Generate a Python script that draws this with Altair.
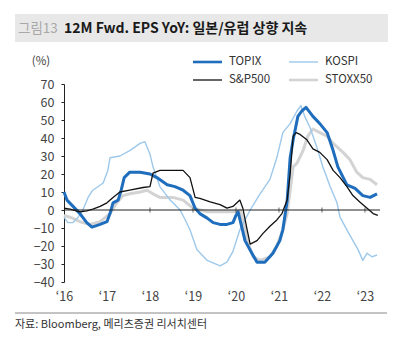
import altair as alt
import pandas as pd

FONT = "Noto Sans CJK KR"

# ---- data (decimal year, % YoY) ----
topix_t = [2016.00, 2016.07, 2016.21, 2016.37, 2016.53, 2016.65, 2016.84, 2017.00, 2017.07, 2017.14,
           2017.26, 2017.33, 2017.40, 2017.53, 2017.77, 2018.00, 2018.16, 2018.40, 2018.58, 2018.77,
           2018.93, 2019.05, 2019.16, 2019.33, 2019.47, 2019.63, 2019.79, 2019.93, 2020.00, 2020.05,
           2020.12, 2020.21, 2020.37, 2020.49, 2020.67, 2020.86, 2021.02, 2021.09, 2021.19, 2021.26,
           2021.33, 2021.44, 2021.53, 2021.63, 2021.79, 2021.95, 2022.12, 2022.26, 2022.37, 2022.58,
           2022.77, 2022.95, 2023.12, 2023.28]
topix_v = [10, 5.5, 2, -2, -7, -9.5, -8, -6.5, -2, 4,
           5.5, 11, 18, 21, 21, 20, 18, 14, 13, 11,
           8, 1, -2, -4.5, -7, -8, -8, -7, -3, -1,
           -8, -17, -24, -29, -29, -24, -17, -11, 5, 29,
           39, 52, 55, 57, 52, 48, 43, 33, 24, 14,
           12, 8, 7, 9]

kospi_t = [2016.00, 2016.09, 2016.21, 2016.33, 2016.44, 2016.56, 2016.67, 2016.91, 2017.02, 2017.07,
           2017.30, 2017.53, 2017.77, 2017.88, 2018.00, 2018.07, 2018.23, 2018.47, 2018.70, 2018.81,
           2018.93, 2019.09, 2019.33, 2019.63, 2019.79, 2019.93, 2020.09, 2020.33, 2020.56, 2020.79,
           2020.95, 2021.09, 2021.26, 2021.42, 2021.51, 2021.60, 2021.72, 2021.88, 2022.02, 2022.19,
           2022.35, 2022.42, 2022.58, 2022.72, 2022.84, 2022.95, 2023.05, 2023.16, 2023.28]
kospi_v = [-4, -7, -7, -4, 0, 7, 11, 15, 22, 29,
           30, 33, 37, 38, 31, 24, 13, 5.5, 0, -5,
           -11, -22, -28, -31, -29, -23, -11, 0, 9, 17,
           29, 43, 48, 55, 58, 52, 46, 35, 24, 13,
           4, -4, -11, -17, -22, -28, -24, -26, -25]

spx_t = [2016.00, 2016.14, 2016.37, 2016.53, 2016.67, 2016.84, 2017.00, 2017.14, 2017.30, 2017.53,
         2017.84, 2018.00, 2018.07, 2018.23, 2018.53, 2018.77, 2018.93, 2019.05, 2019.16, 2019.40,
         2019.63, 2019.79, 2019.93, 2020.09, 2020.16, 2020.26, 2020.33, 2020.49, 2020.63, 2020.79,
         2020.95, 2021.07, 2021.19, 2021.26, 2021.33, 2021.40, 2021.49, 2021.65, 2021.79, 2021.95,
         2022.12, 2022.26, 2022.42, 2022.58, 2022.72, 2022.88, 2023.05, 2023.19, 2023.30]
spx_v = [1, 0.5, -1, -0.5, 0.5, 2, 4, 7, 10, 11,
         12.5, 13, 20.5, 22, 22, 22, 18, 7, 6.5, 4.5,
         3, 1, 2, 5.5, 1, -11, -19, -17, -13, -9,
         -5.5, -2, 5.5, 20, 41, 43, 42, 39, 34, 32,
         28, 22, 18, 13, 8, 4.5, 1, -2, -3]

stoxx_t = [2016.00, 2016.14, 2016.37, 2016.60, 2016.84, 2017.07, 2017.23, 2017.37, 2017.53, 2017.77,
           2017.93, 2018.07, 2018.23, 2018.53, 2018.77, 2019.00, 2019.33, 2019.63, 2020.02, 2020.10,
           2020.19, 2020.26, 2020.40, 2020.56, 2020.79, 2020.95, 2021.09, 2021.19, 2021.26, 2021.33,
           2021.42, 2021.56, 2021.67, 2021.79, 2021.95, 2022.12, 2022.26, 2022.49, 2022.65, 2022.81,
           2022.95, 2023.12, 2023.28]
stoxx_v = [-3, -4, -6.5, -8, -6.5, -2, 4, 8, 9, 10,
           11, 9, 7, 7, 5.5, 1, -1, -1, -1, 0,
           -8, -17, -26, -28, -26, -20, -11, -2, 11, 24,
           26, 33, 41, 45, 43, 41, 37, 32, 28, 21,
           18, 17, 14]

series_names = ["TOPIX", "KOSPI", "S&P500", "STOXX50"]
series_colors = ["#1f6dbd", "#9dc8ea", "#111111", "#d3d3d3"]
series_widths = [3.0, 1.4, 1.3, 3.0]
series_data = {
    "TOPIX": (topix_t, topix_v),
    "KOSPI": (kospi_t, kospi_v),
    "S&P500": (spx_t, spx_v),
    "STOXX50": (stoxx_t, stoxx_v),
}
year_ticks = [2016, 2017, 2018, 2019, 2020, 2021, 2022, 2023]
y_ticks = [-40, -30, -20, -10, 0, 10, 20, 30, 40, 50, 60, 70]

title_tag = "그림13"
title_text = "12M Fwd. EPS YoY: 일본/유럽 상향 지속"
source_text = "자료: Bloomberg, 메리츠증권 리서치센터"
unit_text = "(%)"

W, H = 316, 198
X_DOMAIN = [2016, 2023.35]
Y_DOMAIN = [-40, 70]

xs = alt.Scale(domain=X_DOMAIN, nice=False, zero=False)
ys = alt.Scale(domain=Y_DOMAIN, nice=False, zero=False)

X_AXIS = alt.Axis(
    values=year_ticks, domain=False, ticks=False, grid=False, title=None,
    labelExpr="'\u2018' + substring(toString(datum.value), 2, 4)",
    labelFont=FONT, labelFontSize=12.5, labelColor="#444", labelPadding=8,
    labelFlush=False, labelOverlap=False)
Y_AXIS = alt.Axis(
    values=y_ticks, grid=False, title=None, domainColor="#222", tickColor="#222",
    tickSize=3, labelPadding=7, labelFont=FONT, labelFontSize=12.5, labelColor="#444",
    labelOverlap=False, labelFlush=False)


def X(field):
    return alt.X(field, scale=xs, axis=X_AXIS)


def Y(field):
    return alt.Y(field, scale=ys, axis=Y_AXIS)


one = pd.DataFrame({"a": [0]})

zero_rule = alt.Chart(one).mark_rule(color="#222", strokeWidth=1).encode(
    y=Y("z:Q"), x=alt.value(0), x2=alt.value(W)
).transform_calculate(z="0")

tick_df = pd.DataFrame({"t": year_ticks[2:], "v": [0] * len(year_ticks[2:])})
zero_ticks = alt.Chart(tick_df).mark_tick(color="#222", thickness=1, size=5, orient="vertical").encode(
    x=X("t:Q"), y=Y("v:Q")
)

draw_order = ["STOXX50", "KOSPI", "TOPIX", "S&P500"]
lines = []
for name in draw_order:
    i = series_names.index(name)
    t, v = series_data[name]
    df = pd.DataFrame({"t": t, "v": v})
    lines.append(alt.Chart(df).mark_line(
        color=series_colors[i], strokeWidth=series_widths[i], strokeJoin="round", clip=False
    ).encode(x=X("t:Q"), y=Y("v:Q"), order="t:Q"))

banner = alt.Chart(one).mark_rect(color="#e8e8e8").encode(
    x=alt.value(-49), x2=alt.value(324), y=alt.value(-70), y2=alt.value(-42))
tag = alt.Chart(one).mark_text(align="left", baseline="middle", font=FONT, fontSize=13.5,
                               color="#a8a8a8").encode(
    x=alt.value(-46), y=alt.value(-55), text=alt.value(title_tag))
ttl = alt.Chart(one).mark_text(align="left", baseline="middle", font=FONT, fontSize=14,
                               color="#1a1a1a", fontWeight="bold").encode(
    x=alt.value(0), y=alt.value(-55), text=alt.value(title_text))
unit = alt.Chart(one).mark_text(align="center", baseline="middle", font=FONT, fontSize=11.5,
                                color="#444").encode(
    x=alt.value(-23), y=alt.value(-22), text=alt.value(unit_text))
foot_rule = alt.Chart(one).mark_rule(color="#888", strokeWidth=1).encode(
    x=alt.value(-49), x2=alt.value(323), y=alt.value(229))
foot = alt.Chart(one).mark_text(align="left", baseline="middle", font=FONT, fontSize=11,
                                color="#333").encode(
    x=alt.value(-49), y=alt.value(241), text=alt.value(source_text))

legend_layers = []
leg_pos = {"TOPIX": (129, -22), "KOSPI": (225, -22), "S&P500": (129, -4), "STOXX50": (225, -4)}
for i, name in enumerate(series_names):
    lx, ly = leg_pos[name]
    legend_layers.append(alt.Chart(one).mark_rule(
        color=series_colors[i], strokeWidth=min(series_widths[i], 2.6)).encode(
        x=alt.value(lx), x2=alt.value(lx + 29), y=alt.value(ly)))
    legend_layers.append(alt.Chart(one).mark_text(
        align="left", baseline="middle", font=FONT, fontSize=11.5, color="#333").encode(
        x=alt.value(lx + 36), y=alt.value(ly), text=alt.value(name)))

chart = alt.layer(
    banner, tag, ttl, unit, foot_rule, foot, *legend_layers,
    *lines, zero_rule, zero_ticks
).properties(
    width=W, height=H,
    padding={"left": 64, "top": 84, "right": 20, "bottom": 60},
    autosize=alt.AutoSizeParams(type="none"),
    background="white",
).configure_view(strokeWidth=0)

chart.save("out.html", embed_options={"renderer": "svg", "actions": False})
